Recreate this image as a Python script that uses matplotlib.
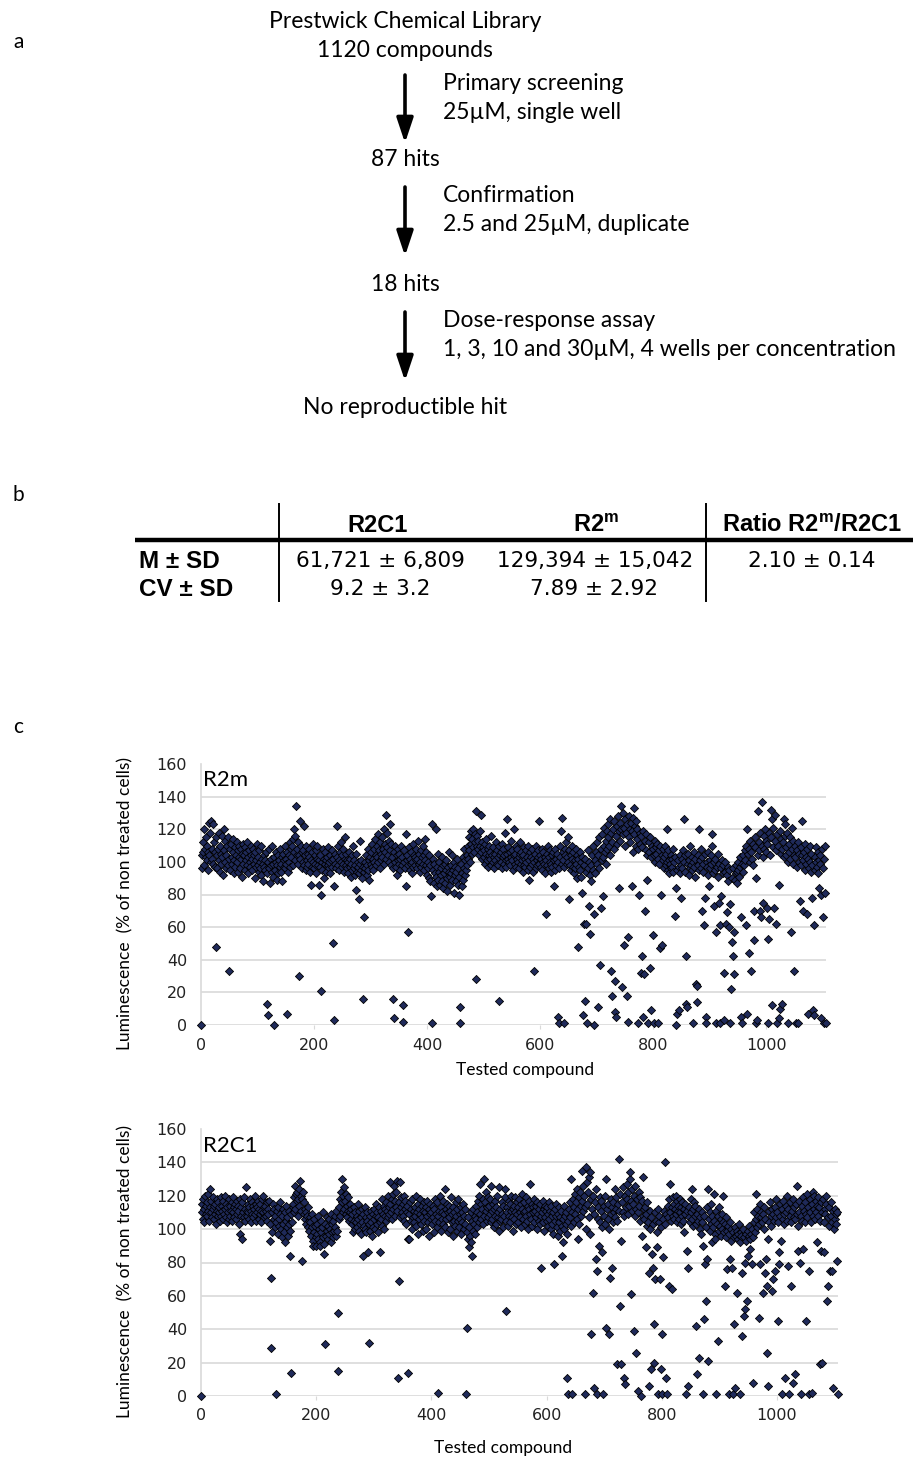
import numpy as np
import matplotlib
matplotlib.use("Agg")
import matplotlib.pyplot as plt

# ---------------- data ----------------
flow_steps = ["Prestwick Chemical Library", "1120 compounds", "87 hits", "18 hits", "No reproductible hit"]
flow_conditions = [("Primary screening", "25µM, single well"),
                   ("Confirmation", "2.5 and 25µM, duplicate"),
                   ("Dose-response assay", "1, 3, 10 and 30µM, 4 wells per concentration")]

table_cols = ["R2C1", "R2$^{\\mathregular{m}}$", "Ratio R2$^{\\mathregular{m}}$/R2C1"]
table_rows = ["M ± SD", "CV ± SD"]
table_cells = [["61,721 ± 6,809", "129,394 ± 15,042", "2.10 ± 0.14"],
               ["9.2 ± 3.2", "7.89 ± 2.92", ""]]

# luminescence (% of non treated cells), one value per tested compound (index = compound number)
r2m_values = [
    0, 104, 96, 112, 106, 120, 98, 108, 103, 115,
    110, 101, 95, 106, 124, 104, 118, 100, 125, 108,
    102, 123, 99, 112, 97, 106, 48, 115, 104, 96,
    108, 118, 101, 94, 110, 105, 99, 116, 103, 92,
    107, 120, 100, 113, 96, 104, 110, 98, 115, 102,
    33, 108, 95, 111, 103, 99, 114, 106, 93, 101,
    109, 97, 104, 112, 100, 94, 107, 103, 110, 96,
    102, 108, 91, 105, 111, 99, 104, 95, 109, 101,
    106, 98, 112, 93, 103, 107, 100, 97, 110, 104,
    95, 102, 108, 99, 104, 90, 106, 101, 97, 111,
    98, 103, 94, 107, 100, 96, 110, 92, 102, 99,
    88, 104, 97, 101, 95, 106, 93, 13, 6, 100,
    96, 108, 87, 102, 98, 94, 110, 99, 91, 0,
    103, 95, 100, 106, 89, 98, 104, 93, 101, 97,
    108, 94, 99, 103, 88, 105, 97, 101, 110, 96,
    102, 99, 106, 7, 94, 104, 100, 112, 97, 108,
    103, 110, 98, 114, 106, 120, 101, 116, 134, 104,
    108, 99, 112, 104, 30, 125, 102, 110, 96, 106,
    100, 107, 122, 98, 104, 95, 110, 101, 97, 105,
    99, 103, 108, 94, 86, 101, 106, 97, 111, 100,
    96, 104, 99, 107, 93, 102, 110, 98, 101, 86,
    104, 97, 80, 21, 100, 95, 108, 102, 90, 99,
    106, 101, 94, 103, 98, 109, 96, 100, 104, 93,
    101, 107, 97, 102, 50, 3, 85, 99, 105, 96,
    122, 103, 98, 110, 101, 95, 106, 100, 112, 97,
    104, 99, 108, 94, 102, 115, 98, 105, 101, 96,
    100, 93, 106, 97, 102, 91, 99, 104, 95, 110,
    96, 101, 92, 98, 83, 105, 94, 100, 97, 77,
    93, 99, 113, 95, 101, 90, 97, 16, 66, 94,
    100, 96, 104, 92, 98, 108, 95, 101, 89, 103,
    99, 106, 97, 111, 102, 95, 108, 100, 114, 104,
    98, 110, 103, 117, 100, 107, 96, 112, 105, 101,
    115, 103, 108, 120, 99, 111, 106, 129, 102, 118,
    109, 104, 113, 100, 123, 107, 98, 111, 103, 96,
    16, 4, 106, 100, 110, 97, 104, 92, 108, 101,
    99, 105, 95, 102, 110, 98, 103, 2, 12, 100,
    107, 96, 117, 85, 101, 104, 57, 98, 109, 95,
    102, 99, 106, 93, 100, 111, 97, 104, 98, 103,
    101, 108, 96, 102, 113, 99, 105, 94, 100, 107,
    97, 103, 110, 99, 95, 104, 101, 114, 98, 106,
    92, 100, 96, 104, 90, 98, 88, 79, 123, 1,
    95, 102, 87, 99, 93, 120, 91, 97, 85, 105,
    89, 94, 100, 86, 96, 92, 103, 88, 98, 84,
    93, 99, 87, 95, 101, 90, 82, 97, 94, 106,
    91, 86, 98, 93, 104, 89, 95, 81, 100, 92,
    97, 88, 94, 102, 86, 96, 80, 91, 11, 1,
    99, 85, 93, 103, 89, 108, 96, 92, 101, 95,
    104, 98, 110, 102, 115, 107, 100, 119, 111, 105,
    114, 109, 120, 106, 112, 117, 131, 28, 110, 116,
    108, 113, 104, 119, 110, 129, 106, 112, 102, 109,
    107, 103, 111, 99, 105, 114, 101, 108, 97, 104,
    110, 102, 106, 98, 116, 104, 100, 109, 103, 96,
    105, 101, 112, 99, 107, 103, 98, 15, 110, 104,
    100, 106, 96, 111, 103, 108, 99, 104, 118, 101,
    97, 105, 126, 102, 109, 100, 106, 98, 113, 103,
    101, 107, 95, 104, 120, 99, 105, 110, 97, 102,
    108, 100, 103, 96, 112, 105, 99, 106, 101, 94,
    104, 98, 109, 102, 97, 107, 100, 103, 95, 110,
    89, 101, 106, 97, 103, 99, 108, 94, 102, 33,
    100, 105, 96, 110, 101, 98, 107, 103, 125, 99,
    104, 97, 102, 108, 95, 100, 106, 99, 103, 93,
    101, 68, 105, 98, 110, 96, 103, 100, 107, 94,
    99, 104, 97, 106, 85, 101, 95, 108, 102, 98,
    105, 100, 5, 1, 96, 110, 103, 119, 99, 127,
    106, 101, 1, 97, 108, 104, 112, 99, 103, 115,
    100, 107, 77, 98, 104, 95, 110, 102, 97, 106,
    93, 101, 96, 108, 99, 104, 90, 48, 102, 97,
    95, 106, 100, 91, 103, 81, 6, 98, 62, 15,
    102, 94, 62, 1, 96, 107, 73, 100, 92, 56,
    98, 88, 104, 95, 110, 0, 68, 101, 93, 106,
    99, 112, 11, 104, 96, 115, 37, 108, 72, 101,
    117, 103, 79, 110, 121, 106, 113, 99, 119, 108,
    115, 123, 110, 104, 126, 118, 33, 112, 18, 120,
    108, 125, 27, 8, 116, 5, 122, 111, 128, 119,
    84, 124, 113, 134, 120, 23, 117, 130, 121, 49,
    110, 126, 118, 18, 123, 54, 2, 115, 128, 120,
    112, 124, 119, 85, 106, 127, 133, 117, 122, 110,
    125, 114, 120, 1, 108, 80, 118, 111, 32, 116,
    109, 42, 119, 5, 31, 70, 113, 107, 117, 104,
    89, 1, 112, 106, 115, 35, 103, 9, 110, 55,
    108, 104, 1, 113, 100, 109, 105, 111, 1, 102,
    107, 99, 110, 47, 80, 104, 49, 101, 108, 96,
    103, 110, 98, 105, 120, 100, 95, 107, 101, 93,
    99, 104, 96, 102, 97, 108, 94, 100, 67, 103,
    0, 84, 7, 95, 101, 97, 9, 104, 93, 78,
    98, 102, 96, 107, 100, 126, 94, 104, 42, 13,
    11, 99, 105, 92, 101, 96, 110, 98, 103, 95,
    1, 100, 106, 97, 102, 91, 25, 14, 24, 104,
    98, 120, 95, 101, 108, 96, 103, 70, 99, 94,
    61, 105, 78, 5, 1, 100, 97, 106, 92, 85,
    101, 96, 104, 99, 110, 117, 93, 73, 100, 95,
    102, 57, 1, 97, 105, 91, 99, 75, 1, 61,
    96, 79, 101, 93, 98, 32, 3, 94, 100, 62,
    69, 92, 97, 88, 95, 60, 1, 74, 22, 90,
    51, 96, 42, 57, 31, 89, 93, 98, 94, 87,
    95, 100, 91, 97, 103, 66, 5, 1, 99, 94,
    104, 98, 107, 101, 61, 110, 120, 7, 105, 44,
    108, 100, 113, 33, 106, 102, 111, 98, 70, 52,
    109, 115, 1, 90, 3, 131, 104, 112, 107, 118,
    70, 66, 137, 110, 103, 75, 116, 108, 120, 113,
    106, 111, 72, 1, 53, 118, 65, 104, 132, 115,
    126, 12, 109, 121, 72, 129, 113, 107, 62, 117,
    1, 110, 86, 4, 10, 119, 105, 114, 108, 13,
    112, 103, 126, 116, 123, 109, 104, 118, 100, 1,
    111, 106, 115, 102, 57, 121, 108, 99, 113, 104,
    33, 110, 103, 1, 107, 97, 112, 1, 105, 100,
    76, 109, 98, 104, 125, 101, 70, 106, 95, 111,
    103, 99, 108, 68, 7, 102, 96, 110, 100, 94,
    105, 78, 98, 9, 6, 61, 103, 95, 109, 100,
    97, 106, 93, 101, 84, 104, 99, 80, 4, 108,
    96, 66, 1, 102, 81, 110, 1,
]

r2c1_values = [
    0, 110, 115, 106, 118, 112, 104, 120, 109, 114,
    108, 116, 111, 121, 105, 113, 124, 110, 117, 107,
    112, 119, 106, 114, 109, 115, 103, 118, 111, 108,
    116, 110, 113, 105, 119, 108, 114, 111, 106, 117,
    109, 112, 120, 107, 115, 104, 113, 110, 118, 106,
    114, 108, 111, 116, 105, 119, 110, 113, 107, 115,
    112, 106, 117, 109, 114, 111, 103, 118, 97, 108,
    113, 94, 116, 110, 107, 119, 112, 105, 125, 111,
    108, 115, 110, 113, 106, 118, 111, 104, 116, 109,
    114, 107, 112, 120, 109, 115, 105, 113, 110, 117,
    106, 112, 109, 115, 111, 104, 118, 110, 120, 113,
    107, 114, 108, 111, 116, 105, 112, 109, 117, 103,
    93, 71, 29, 110, 98, 115, 106, 112, 101, 108,
    104, 1, 111, 97, 113, 106, 102, 116, 109, 100,
    108, 95, 112, 103, 98, 110, 92, 105, 114, 101,
    107, 96, 111, 103, 99, 84, 14, 109, 104, 113,
    115, 110, 119, 126, 112, 121, 117, 122, 108, 118,
    124, 114, 129, 120, 111, 118, 81, 122, 109, 116,
    112, 106, 110, 103, 108, 113, 101, 105, 99, 107,
    104, 96, 109, 101, 93, 90, 106, 98, 102, 95,
    90, 103, 97, 108, 94, 100, 92, 90, 105, 98,
    101, 95, 110, 91, 85, 31, 103, 96, 99, 107,
    94, 102, 97, 106, 100, 92, 109, 98, 103, 95,
    105, 99, 108, 101, 96, 111, 99, 50, 15, 106,
    113, 118, 108, 122, 130, 116, 110, 120, 112, 125,
    117, 109, 121, 107, 114, 119, 111, 105, 115, 110,
    106, 112, 103, 109, 98, 113, 105, 100, 110, 104,
    108, 101, 115, 106, 99, 111, 103, 107, 97, 112,
    104, 109, 84, 102, 113, 100, 107, 98, 105, 110,
    86, 32, 103, 108, 99, 111, 104, 96, 109, 101,
    106, 112, 100, 108, 115, 103, 110, 98, 107, 113,
    104, 86, 111, 106, 118, 102, 109, 114, 100, 112,
    108, 116, 105, 111, 120, 107, 113, 109, 128, 115,
    110, 118, 106, 121, 112, 126, 108, 117, 113, 122,
    129, 111, 11, 116, 69, 128, 107, 119, 113, 110,
    115, 108, 120, 105, 112, 117, 103, 110, 114, 14,
    94, 94, 109, 116, 105, 112, 100, 118, 107, 111,
    104, 113, 108, 120, 102, 110, 115, 97, 112, 106,
    118, 109, 103, 114, 107, 111, 99, 116, 105, 110,
    113, 100, 108, 117, 104, 112, 96, 109, 115, 106,
    110, 103, 114, 107, 98, 112, 105, 118, 109, 101,
    116, 108, 2, 111, 104, 120, 99, 113, 106, 110,
    103, 117, 109, 124, 101, 112, 106, 115, 98, 110,
    107, 114, 100, 111, 119, 104, 109, 96, 113, 105,
    110, 102, 116, 108, 99, 112, 105, 118, 101, 109,
    106, 113, 97, 110, 104, 115, 100, 108, 112, 103,
    1, 41, 98, 107, 94, 89, 101, 96, 110, 92,
    84, 105, 99, 112, 103, 108, 97, 114, 106, 101,
    110, 117, 104, 120, 127, 109, 115, 106, 112, 118,
    103, 130, 108, 116, 111, 122, 105, 113, 119, 107,
    114, 109, 118, 104, 126, 111, 106, 115, 101, 112,
    108, 117, 103, 113, 120, 107, 110, 99, 125, 105,
    112, 106, 116, 109, 101, 114, 108, 119, 124, 51,
    105, 113, 110, 102, 117, 108, 115, 104, 111, 120,
    107, 112, 99, 114, 106, 119, 110, 103, 116, 109,
    113, 104, 118, 110, 107, 115, 101, 112, 121, 106,
    110, 116, 103, 111, 108, 119, 105, 114, 100, 112,
    117, 127, 109, 106, 115, 102, 113, 110, 118, 104,
    111, 107, 114, 100, 116, 109, 105, 112, 103, 115,
    108, 77, 110, 117, 104, 112, 99, 114, 107, 111,
    105, 113, 102, 109, 116, 106, 111, 100, 114, 108,
    103, 110, 97, 79, 112, 105, 108, 115, 101, 96,
    109, 104, 113, 99, 107, 111, 102, 84, 106, 92,
    114, 100, 108, 103, 110, 97, 11, 1, 105, 112,
    107, 116, 102, 130, 1, 110, 118, 104, 113, 121,
    109, 116, 106, 124, 94, 112, 119, 103, 122, 114,
    108, 135, 117, 111, 126, 120, 113, 1, 137, 100,
    128, 115, 122, 107, 131, 134, 97, 118, 37, 112,
    120, 62, 109, 5, 116, 82, 124, 75, 1, 113,
    106, 90, 119, 104, 111, 117, 101, 86, 1, 114,
    108, 120, 103, 130, 41, 112, 106, 115, 37, 100,
    71, 118, 109, 77, 113, 104, 116, 110, 124, 107,
    112, 119, 105, 19, 115, 111, 142, 54, 121, 19,
    93, 116, 110, 125, 108, 11, 120, 7, 113, 127,
    118, 109, 122, 114, 130, 134, 61, 117, 111, 124,
    115, 39, 120, 108, 126, 112, 26, 118, 3, 110,
    122, 114, 105, 119, 0, 96, 117, 108, 131, 112,
    106, 113, 89, 109, 102, 116, 104, 74, 6, 111,
    100, 16, 107, 85, 77, 103, 43, 20, 70, 110,
    105, 89, 98, 112, 1, 104, 108, 70, 101, 16,
    37, 1, 83, 106, 111, 103, 140, 109, 11, 1,
    114, 107, 118, 66, 127, 110, 105, 64, 113, 119,
    108, 115, 106, 112, 120, 109, 117, 104, 111, 114,
    106, 118, 110, 103, 113, 108, 116, 105, 98, 112,
    109, 115, 1, 87, 111, 77, 6, 107, 113, 104,
    118, 110, 124, 106, 112, 102, 116, 108, 114, 103,
    42, 13, 109, 105, 23, 112, 100, 107, 97, 110,
    104, 1, 90, 108, 46, 79, 101, 57, 82, 113,
    21, 124, 106, 99, 110, 103, 115, 92, 108, 101,
    121, 105, 97, 94, 111, 1, 103, 33, 108, 99,
    113, 102, 106, 96, 109, 100, 104, 120, 98, 66,
    103, 95, 107, 76, 99, 102, 1, 97, 104, 82,
    93, 100, 77, 1, 98, 95, 43, 5, 101, 96,
    62, 99, 94, 97, 103, 92, 1, 98, 96, 36,
    74, 100, 48, 95, 52, 80, 97, 93, 57, 84,
    99, 96, 102, 88, 94, 97, 79, 100, 95, 8,
    104, 110, 98, 121, 106, 112, 101, 108, 103, 47,
    115, 79, 107, 110, 104, 62, 109, 113, 100, 74,
    106, 82, 66, 26, 6, 94, 111, 104, 116, 108,
    102, 112, 63, 70, 109, 105, 75, 113, 107, 118,
    110, 45, 104, 86, 79, 115, 108, 93, 1, 112,
    106, 117, 109, 103, 11, 114, 110, 120, 105, 78,
    112, 1, 108, 116, 66, 104, 111, 8, 118, 107,
    113, 13, 106, 115, 126, 109, 102, 87, 117, 110,
    80, 108, 1, 114, 105, 119, 88, 111, 104, 116,
    109, 45, 121, 107, 113, 1, 75, 118, 110, 104,
    2, 115, 122, 108, 112, 120, 106, 117, 110, 114,
    92, 119, 108, 113, 105, 19, 116, 87, 20, 110,
    118, 86, 104, 112, 109, 115, 120, 57, 66, 107,
    113, 102, 75, 108, 116, 104, 75, 5, 111, 100,
    106, 112, 103, 109, 81, 110, 1,
]

x_ticks = [0, 200, 400, 600, 800, 1000]
y_ticks = [0, 20, 40, 60, 80, 100, 120, 140, 160]

# ---------------- figure ----------------
W, H = 913, 1458
fig = plt.figure(figsize=(W / 100, H / 100), dpi=100)
fig.patch.set_facecolor("white")

ov = fig.add_axes([0, 0, 1, 1])
ov.set_xlim(0, W)
ov.set_ylim(H, 0)
ov.axis("off")

FLOW_FONT = ["Lato", "DejaVu Sans"]
ARIAL = ["Liberation Sans", "DejaVu Sans"]
WIDE = ["DejaVu Sans"]
CALIBRI = ["Lato", "DejaVu Sans"]

# panel labels
for lab, yy in [("a", 42), ("b", 495), ("c", 727)]:
    ov.text(13, yy, lab, fontsize=15, family=FLOW_FONT, ha="left", va="center")

# ---- panel a: flow chart ----
axis_x = 405
FS_A = 16.5
ov.text(axis_x, 21, flow_steps[0], fontsize=FS_A, family=FLOW_FONT, ha="center", va="center")
ov.text(axis_x, 50, flow_steps[1], fontsize=FS_A, family=FLOW_FONT, ha="center", va="center")
step_y = [159, 284, 407]
for txt, yy in zip(flow_steps[2:], step_y):
    ov.text(axis_x, yy, txt, fontsize=FS_A, family=FLOW_FONT, ha="center", va="center")
arrow_spans = [(75, 143), (187, 256), (312, 381)]
for (y0, y1), (c1, c2) in zip(arrow_spans, flow_conditions):
    ov.annotate("", xy=(axis_x, y1), xytext=(axis_x, y0),
                arrowprops=dict(arrowstyle="-|>,head_length=1.5,head_width=0.5",
                                lw=2.6, color="black", shrinkA=0, shrinkB=0))
    ov.text(443, y0 + 8, c1, fontsize=FS_A, family=FLOW_FONT, ha="left", va="center")
    ov.text(443, y0 + 37, c2, fontsize=FS_A, family=FLOW_FONT, ha="left", va="center")

# ---- panel b: table ----
ov.plot([135, 913], [540, 540], color="black", lw=3.2, solid_capstyle="butt")
for vx in [279, 706]:
    ov.plot([vx, vx], [504, 601], color="black", lw=1.4)
col_x = [378, 596, 812]
for cx, lab in zip(col_x, table_cols):
    ov.text(cx, 525, lab, fontsize=17, family=ARIAL, fontweight="bold", ha="center", va="center")
row_y = [561, 589]
for ry, rlab in zip(row_y, table_rows):
    ov.text(139, ry, rlab, fontsize=17.5, family=ARIAL, fontweight="bold", ha="left", va="center")
cell_x = [[380, 595, 812], [380, 594, 812]]
for ri, (ry, row) in enumerate(zip(row_y, table_cells)):
    for ci, val in enumerate(row):
        if val:
            ov.text(cell_x[ri][ci], ry, val, fontsize=15.5, family=WIDE, ha="center", va="center")

# ---- panel c: scatter plots ----
def px_rect(x0, x1, ytop, ybot):
    return [x0 / W, 1 - ybot / H, (x1 - x0) / W, (ybot - ytop) / H]

def scatter_panel(rect, values, title):
    ax = fig.add_axes(rect)
    xs = np.arange(len(values))
    ax.set_xlim(0, 1106)
    ax.set_ylim(0, 160)
    for g in y_ticks[:-1]:
        ax.axhline(g, color="#d9d9d9", lw=1.2, zorder=0)
    ax.scatter(xs, values, marker="D", s=17, facecolor="#1f2a5a", edgecolor="black",
               linewidths=0.6, zorder=3, clip_on=False)
    for sp in ["top", "right", "bottom"]:
        ax.spines[sp].set_visible(False)
    ax.spines["left"].set_color("#d9d9d9")
    ax.spines["left"].set_linewidth(1.2)
    ax.set_xticks(x_ticks)
    ax.set_yticks(y_ticks)
    ax.tick_params(axis="y", length=0, pad=10, labelsize=11.5, labelcolor="#222222")
    ax.tick_params(axis="x", length=3, color="#d9d9d9", pad=6, labelsize=11.5, labelcolor="#222222")
    for lab in ax.get_xticklabels() + ax.get_yticklabels():
        lab.set_family(WIDE)
    ax.text(4, 150, title, fontsize=16, family=CALIBRI, ha="left", va="center")
    return ax

ax1 = scatter_panel(px_rect(201, 826, 764, 1025), r2m_values, "R2m")
ax2 = scatter_panel(px_rect(201, 838, 1129, 1396), r2c1_values, "R2C1")

ylab = "Luminescence  (% of non treated cells)"
ov.text(125, 904, ylab, fontsize=12.5, family=CALIBRI, rotation=90, ha="center", va="center")
ov.text(125, 1271, ylab, fontsize=12.5, family=CALIBRI, rotation=90, ha="center", va="center")
ov.text(525, 1070, "Tested compound", fontsize=12.5, family=CALIBRI, ha="center", va="center")
ov.text(503, 1448, "Tested compound", fontsize=12.5, family=CALIBRI, ha="center", va="center")

fig.savefig("out.png", dpi=100, facecolor="white")
